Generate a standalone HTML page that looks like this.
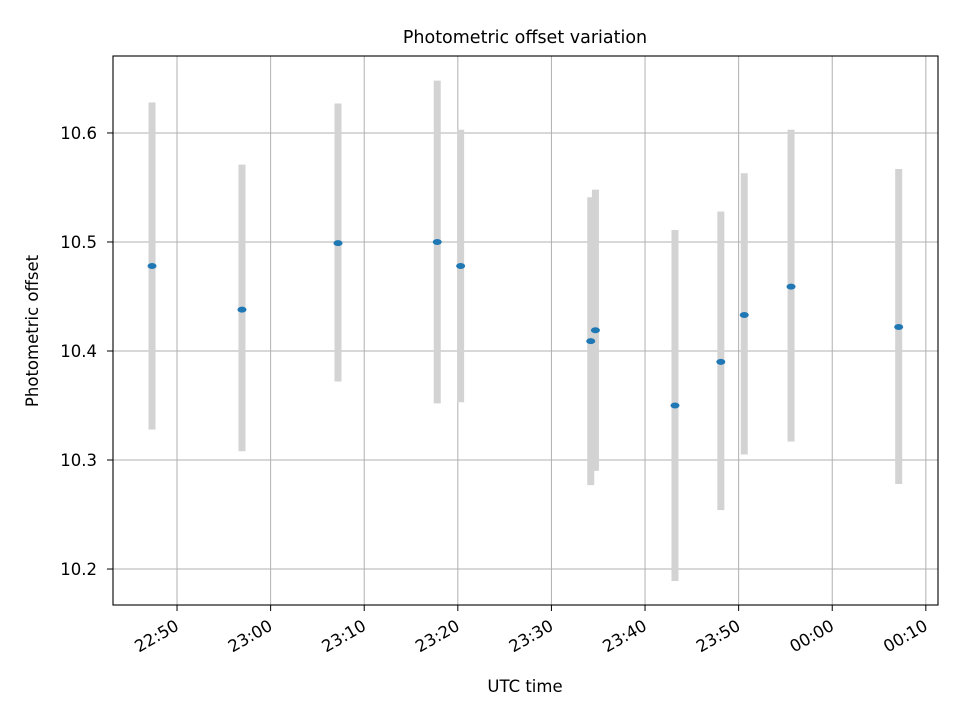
<!DOCTYPE html>
<html><head><meta charset="utf-8"><style>
body{margin:0;background:#fff}
svg text{font-family:"DejaVu Sans","Liberation Sans",sans-serif;fill:#000}
</style></head><body>
<svg id="chart" width="960" height="720" xmlns="http://www.w3.org/2000/svg">
<rect width="960" height="720" fill="#fff"/>
<g id="grid"></g>
<g id="bars"></g>
<g id="pts"></g>
<rect x="113" y="56" width="825" height="549" fill="none" stroke="#000" stroke-width="1.1"/>
<g id="ticks"></g>
<text x="525" y="43" font-size="17.5" text-anchor="middle">Photometric offset variation</text>
<text x="525" y="692" font-size="16.5" text-anchor="middle">UTC time</text>
<text transform="translate(38,331) rotate(-90)" font-size="16.5" text-anchor="middle">Photometric offset</text>
</svg>
<script>
// minutes since 22:50
const times=[-2.67,6.94,17.2,27.8,30.3,44.2,44.7,53.2,58.1,60.6,65.6,77.1];
const offsets=[10.478,10.438,10.499,10.500,10.478,10.409,10.419,10.350,10.390,10.433,10.459,10.422];
const errUp=[0.150,0.133,0.128,0.148,0.125,0.132,0.129,0.161,0.138,0.130,0.144,0.145];
const errDown=[0.150,0.130,0.127,0.148,0.125,0.132,0.129,0.161,0.136,0.128,0.142,0.144];
const xTickVals=[0,10,20,30,40,50,60,70,80];
const xTickLabels=["22:50","23:00","23:10","23:20","23:30","23:40","23:50","00:00","00:10"];
const yTickVals=[10.2,10.3,10.4,10.5,10.6];
const yTickLabels=["10.2","10.3","10.4","10.5","10.6"];

const X0=113,X1=938,Y0=56,Y1=605;
const xMin=-6.84,xMax=81.3,yMin=10.167,yMax=10.6706;
const sx=v=>X0+(v-xMin)/(xMax-xMin)*(X1-X0);
const sy=v=>Y1-(v-yMin)/(yMax-yMin)*(Y1-Y0);
const NS="http://www.w3.org/2000/svg";
function mk(tag,attrs,parent){const e=document.createElementNS(NS,tag);for(const k in attrs)e.setAttribute(k,attrs[k]);parent.appendChild(e);return e;}
const grid=document.getElementById('grid'),ticks=document.getElementById('ticks'),bars=document.getElementById('bars'),pts=document.getElementById('pts');
xTickVals.forEach((v,i)=>{const x=sx(v);
 const g=mk('line',{x1:x,x2:x,y1:Y0,y2:Y1,stroke:'#b0b0b0','stroke-width':1},grid);
 
 
 const t=mk('line',{x1:x,x2:x,y1:Y1,y2:Y1+6,stroke:'#000'},ticks);
 
 
 const l=mk('text',{'font-size':16.5,'text-anchor':'end',transform:`translate(${x+3},${Y1+24}) rotate(-30)`},ticks);
 l.textContent=xTickLabels[i];
 
 
});
yTickVals.forEach((v,i)=>{const y=sy(v);
 const g=mk('line',{x1:X0,x2:X1,y1:y,y2:y,stroke:'#b0b0b0','stroke-width':1},grid);
 
 
 const t=mk('line',{x1:X0-6,x2:X0,y1:y,y2:y,stroke:'#000'},ticks);
 
 
 const l=mk('text',{x:X0-16,y:y+6,'font-size':16.5,'text-anchor':'end'},ticks);
 l.textContent=yTickLabels[i];
 
 
});
times.forEach((t,i)=>{const x=sx(t);
 const b=mk('line',{x1:x,x2:x,y1:sy(offsets[i]+errUp[i]),y2:sy(offsets[i]-errDown[i]),stroke:'#d3d3d3','stroke-width':7},bars);
 
 
 const p=mk('ellipse',{cx:x,cy:sy(offsets[i]),rx:4.5,ry:3,fill:'#1f77b4'},pts);
 
 
});
</script>
</body></html>
